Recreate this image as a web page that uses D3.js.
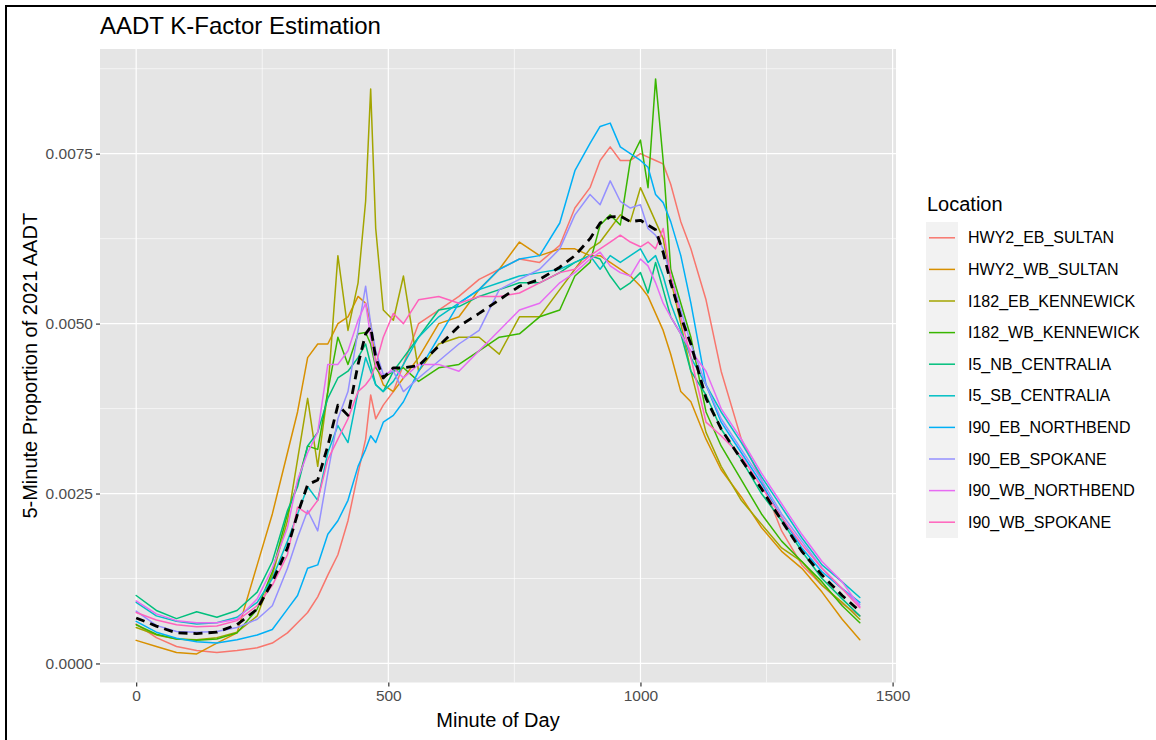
<!DOCTYPE html>
<html>
<head>
<meta charset="utf-8">
<script src="https://cdn.jsdelivr.net/npm/d3@7"></script>
<style>
  body { margin: 0; background: #fff; }
  svg { display: block; font-family: "Liberation Sans", Arial, sans-serif; }
</style>
</head>
<body>
<svg id="chart" width="1156" height="740"></svg>
<script>
// values are proportions of AADT, written in units of 1e-4
const UNIT = 1e-4;

const minutes = [0, 40, 80, 120, 160, 200, 240, 270, 300, 320, 340, 360, 380, 400, 420, 440,
  455, 465, 475, 490, 510, 530, 560, 600, 640, 680, 720, 760, 800, 840, 870, 900,
  920, 940, 960, 980, 1000, 1015, 1030, 1045, 1060, 1080, 1100, 1130, 1160, 1200,
  1240, 1280, 1320, 1360, 1400, 1435];

const locations = ['HWY2_EB_SULTAN', 'HWY2_WB_SULTAN', 'I182_EB_KENNEWICK', 'I182_WB_KENNEWICK',
  'I5_NB_CENTRALIA', 'I5_SB_CENTRALIA', 'I90_EB_NORTHBEND', 'I90_EB_SPOKANE',
  'I90_WB_NORTHBEND', 'I90_WB_SPOKANE'];

const colors = ['#F8766D', '#D89000', '#A3A500', '#39B600', '#00BF7D',
  '#00BFC4', '#00B0F6', '#9590FF', '#E76BF3', '#FF62BC'];

const hwy2EbSultan = [5.8, 3.8, 2.5, 1.9, 1.6, 1.9, 2.3, 3.0, 4.5, 6.0, 7.5, 9.8, 13, 16, 21, 28,
  33, 39.5, 36, 38, 40, 44, 50, 52, 54, 56.5, 58, 59.5, 59, 61.5, 67, 70,
  74, 76, 74, 74, 75, 74.5, 74, 73.5, 70.5, 65, 61, 53.5, 43, 33,
  27, 19.5, 14.5, 11.5, 8.8, 7.0];
const hwy2WbSultan = [3.4, 2.5, 1.6, 1.4, 3.0, 4.5, 14.5, 22, 31, 37, 45, 47, 47, 50, 51, 54,
  53, 50, 44, 41, 40, 42, 45, 50, 51, 55, 58, 62, 60, 61, 61, 60,
  60, 59, 58, 57, 55.5, 54, 51.5, 49, 45.5, 40, 38.5, 33, 28.5, 24.5,
  20, 16.5, 14, 10.5, 6.5, 3.5];
const i182EbKennewick = [5.3, 4.2, 3.6, 3.5, 3.8, 4.6, 7.0, 13, 21, 30, 39, 29, 40, 60, 49, 56,
  68, 84.5, 64, 52, 50.5, 57, 43, 47, 48, 48, 45.5, 51, 51, 55, 58, 61,
  62, 64, 66, 65, 70, 67.5, 65, 62.5, 56.5, 50, 43, 34, 29, 24,
  20.5, 17, 15, 11.5, 9, 6.5];
const i182WbKennewick = [5.7, 4.3, 3.6, 3.4, 3.6, 4.5, 8.0, 13.5, 22, 26.5, 32, 31.5, 40, 48, 44, 48.5,
  48.7, 47, 43.5, 42, 43, 43.5, 41.5, 43.5, 44, 46, 48, 48.5, 51, 52, 57, 59,
  64.5, 66, 64.5, 74, 77, 70, 86, 74, 58, 53, 48, 37, 32, 27,
  22, 18, 15, 12, 8.5, 6.0];
const i5NbCentralia = [10.0, 7.8, 6.6, 7.6, 6.8, 7.8, 10.5, 15, 22.5, 26, 32, 34, 39, 42, 43, 45,
  47, 44, 41, 40, 43, 45, 48, 52, 52.5, 54, 55, 56, 56, 57.5, 59, 60,
  59.5, 57, 55, 56, 57.5, 54.5, 59, 55, 51, 48.5, 43, 39.5, 34.5, 30,
  25, 21, 16.5, 12.5, 9.5, 7.0];
const i5SbCentralia = [9.0, 7.0, 6.2, 5.8, 6.0, 6.8, 9.0, 12.5, 18, 22, 26, 24, 31, 35, 32.5, 40,
  45, 43, 41, 40, 41.5, 44, 48, 51, 53, 55, 56, 57, 57.5, 58, 59, 60,
  58, 60, 59, 60, 61, 59, 60, 57, 53, 49, 45, 41, 37, 32.5,
  27.5, 23, 18.5, 14.5, 12, 9.7];
const i90EbNorthbend = [6.2, 4.6, 3.7, 3.2, 3.0, 3.5, 4.2, 5.0, 8.0, 10, 14, 14.5, 19, 21, 24, 29,
  31.5, 33.5, 32.5, 35.5, 36.5, 38.5, 43, 48, 53, 55, 58, 59.5, 60, 64.8, 72.5, 76.5,
  79, 79.5, 76, 75, 74, 73, 69, 67.8, 65, 60, 53, 41, 35.5, 31,
  26.5, 21.5, 17, 13.5, 11, 9.0];
const i90EbSpokane = [7.7, 5.6, 4.7, 4.6, 4.7, 5.3, 6.5, 8.5, 14, 18.5, 22.5, 19.5, 28, 36, 40, 49,
  55.5, 50, 46, 42.5, 43, 40, 42, 44.5, 47, 49, 55, 56.5, 58, 61, 66, 69,
  67.5, 71, 68, 67, 67.5, 64, 63, 61, 57, 52, 47, 41, 36, 31.5,
  27, 22, 18, 14, 11, 8.7];
const i90WbNorthbend = [9.2, 7.3, 6.3, 6.0, 6.0, 6.5, 9.5, 14, 20, 27, 31, 34, 44, 44, 46, 50.5,
  53, 48, 44, 42, 43.5, 42, 44, 44, 43, 46, 49, 52, 53, 56, 57.5, 59.5,
  60.5, 58.5, 57.5, 57, 59.5, 58.5, 56, 53, 51, 48.5, 46, 43, 37.5, 33,
  28, 23.5, 19, 15, 12, 8.4];
const i90WbSpokane = [7.5, 6.4, 5.7, 5.4, 5.5, 6.3, 8.5, 11.5, 16, 23, 22, 24, 30, 33, 36, 40,
  41, 42, 44, 48, 51.5, 50, 53.5, 54, 53, 54, 54, 54.5, 56, 57.5, 58, 60,
  61, 62, 63, 62, 61.3, 62, 61, 64, 57, 51, 45, 35.5, 33.5, 30.5,
  26, 21.5, 17.5, 14, 11, 8.2];

// overall average profile (black dashed)
const meanProfile = [6.7, 5.5, 4.5, 4.4, 4.6, 5.7, 8.0, 12, 17, 22, 26.3, 27, 32, 38, 36.5, 44,
  48.5, 49.5, 45, 42, 43.5, 43.5, 43.8, 46.7, 49.6, 51.5, 53.5, 55.5, 56.5, 58.3, 60, 62.5,
  64.8, 65.7, 65.8, 65, 65.2, 64.5, 63.8, 60.5, 56, 51, 47, 39, 34.5, 30,
  25.7, 21, 16.5, 13, 10, 7.7];

const seriesValues = [hwy2EbSultan, hwy2WbSultan, i182EbKennewick, i182WbKennewick,
  i5NbCentralia, i5SbCentralia, i90EbNorthbend, i90EbSpokane, i90WbNorthbend, i90WbSpokane];

const xTicks = [0, 500, 1000, 1500];
const xMinor = [250, 750, 1250];
const yTicks = [0, 0.0025, 0.005, 0.0075];
const yMinor = [0.00125, 0.00375, 0.00625, 0.00875];

const panel = { left: 100, right: 896, top: 49, bottom: 682.5 };

const svg = d3.select('#chart');

// outer frame lines (top and left edge of the picture)
svg.append('line').attr('x1', 5).attr('x2', 1156).attr('y1', 6).attr('y2', 6)
  .attr('stroke', '#000').attr('stroke-width', 2);
svg.append('line').attr('x1', 6).attr('x2', 6).attr('y1', 5).attr('y2', 740)
  .attr('stroke', '#000').attr('stroke-width', 2);

const x = d3.scaleLinear().domain([-71.75, 1506.75]).range([panel.left, panel.right]);
const y = d3.scaleLinear().domain([-0.00028, 0.00904]).range([panel.bottom, panel.top]);

// panel background
svg.append('rect')
  .attr('x', panel.left).attr('y', panel.top)
  .attr('width', panel.right - panel.left).attr('height', panel.bottom - panel.top)
  .attr('fill', '#E5E5E5');

const grid = svg.append('g').attr('stroke', '#fff');
grid.selectAll('line.xminor').data(xMinor).enter().append('line')
  .attr('x1', d => x(d)).attr('x2', d => x(d))
  .attr('y1', panel.top).attr('y2', panel.bottom).attr('stroke-width', 0.6);
grid.selectAll('line.yminor').data(yMinor).enter().append('line')
  .attr('y1', d => y(d)).attr('y2', d => y(d))
  .attr('x1', panel.left).attr('x2', panel.right).attr('stroke-width', 0.6);
grid.selectAll('line.xmajor').data(xTicks).enter().append('line')
  .attr('x1', d => x(d)).attr('x2', d => x(d))
  .attr('y1', panel.top).attr('y2', panel.bottom).attr('stroke-width', 1.2);
grid.selectAll('line.ymajor').data(yTicks).enter().append('line')
  .attr('y1', d => y(d)).attr('y2', d => y(d))
  .attr('x1', panel.left).attr('x2', panel.right).attr('stroke-width', 1.2);

// lines
const line = d3.line()
  .x((d, i) => x(minutes[i]))
  .y(d => y(d * UNIT));

const lines = svg.append('g').attr('fill', 'none')
  .attr('stroke-linejoin', 'round').attr('stroke-linecap', 'round');
lines.selectAll('path.loc').data(seriesValues).enter().append('path')
  .attr('class', 'loc')
  .attr('d', d => line(d))
  .attr('stroke', (d, i) => colors[i])
  .attr('stroke-width', 1.5);

lines.append('path')
  .attr('d', line(meanProfile))
  .attr('stroke', '#000')
  .attr('stroke-width', 2.8)
  .attr('stroke-linecap', 'butt')
  .attr('stroke-dasharray', '9,6');

// axes
const xAxis = svg.append('g')
  .attr('transform', `translate(0,${panel.bottom})`)
  .call(d3.axisBottom(x).tickValues(xTicks).tickSize(4).tickPadding(3).tickFormat(d3.format('d')));
const yAxis = svg.append('g')
  .attr('transform', `translate(${panel.left},0)`)
  .call(d3.axisLeft(y).tickValues(yTicks).tickSize(4).tickPadding(3).tickFormat(d3.format('.4f')));

[xAxis, yAxis].forEach(function (a) {
  a.select('.domain').remove();
  a.selectAll('.tick line').attr('stroke', '#333').attr('stroke-width', 1.2);
  a.selectAll('.tick text').attr('fill', '#4D4D4D')
    .style('font-size', '15.5px').style('font-family', '"Liberation Sans", Arial, sans-serif');
});

// titles
svg.append('text')
  .attr('x', 100).attr('y', 34)
  .style('font-size', '24px').attr('fill', '#000')
  .text('AADT K-Factor Estimation');

svg.append('text')
  .attr('x', (panel.left + panel.right) / 2).attr('y', 727)
  .attr('text-anchor', 'middle')
  .style('font-size', '20px').attr('fill', '#000')
  .text('Minute of Day');

svg.append('text')
  .attr('transform', `translate(37,${(panel.top + panel.bottom) / 2}) rotate(-90)`)
  .attr('text-anchor', 'middle')
  .style('font-size', '20px').attr('fill', '#000')
  .text('5-Minute Proportion of 2021 AADT');

// legend
const legend = svg.append('g').attr('transform', 'translate(926,0)');
legend.append('text')
  .attr('x', 1).attr('y', 211)
  .style('font-size', '20px').attr('fill', '#000')
  .text('Location');

const keyTop = 222, keyH = 31.6, keyW = 32;
legend.append('rect')
  .attr('x', 0).attr('y', keyTop)
  .attr('width', keyW).attr('height', keyH * locations.length)
  .attr('fill', '#F2F2F2');

const items = legend.selectAll('g.item').data(locations).enter().append('g')
  .attr('class', 'item')
  .attr('transform', (d, i) => `translate(0,${keyTop + keyH * (i + 0.5)})`);
items.append('line')
  .attr('x1', 3).attr('x2', keyW - 3)
  .attr('stroke', (d, i) => colors[i]).attr('stroke-width', 1.5);
items.append('text')
  .attr('x', 42).attr('dy', '0.35em')
  .style('font-size', '16px').attr('fill', '#000')
  .text(d => d);
</script>
</body>
</html>
